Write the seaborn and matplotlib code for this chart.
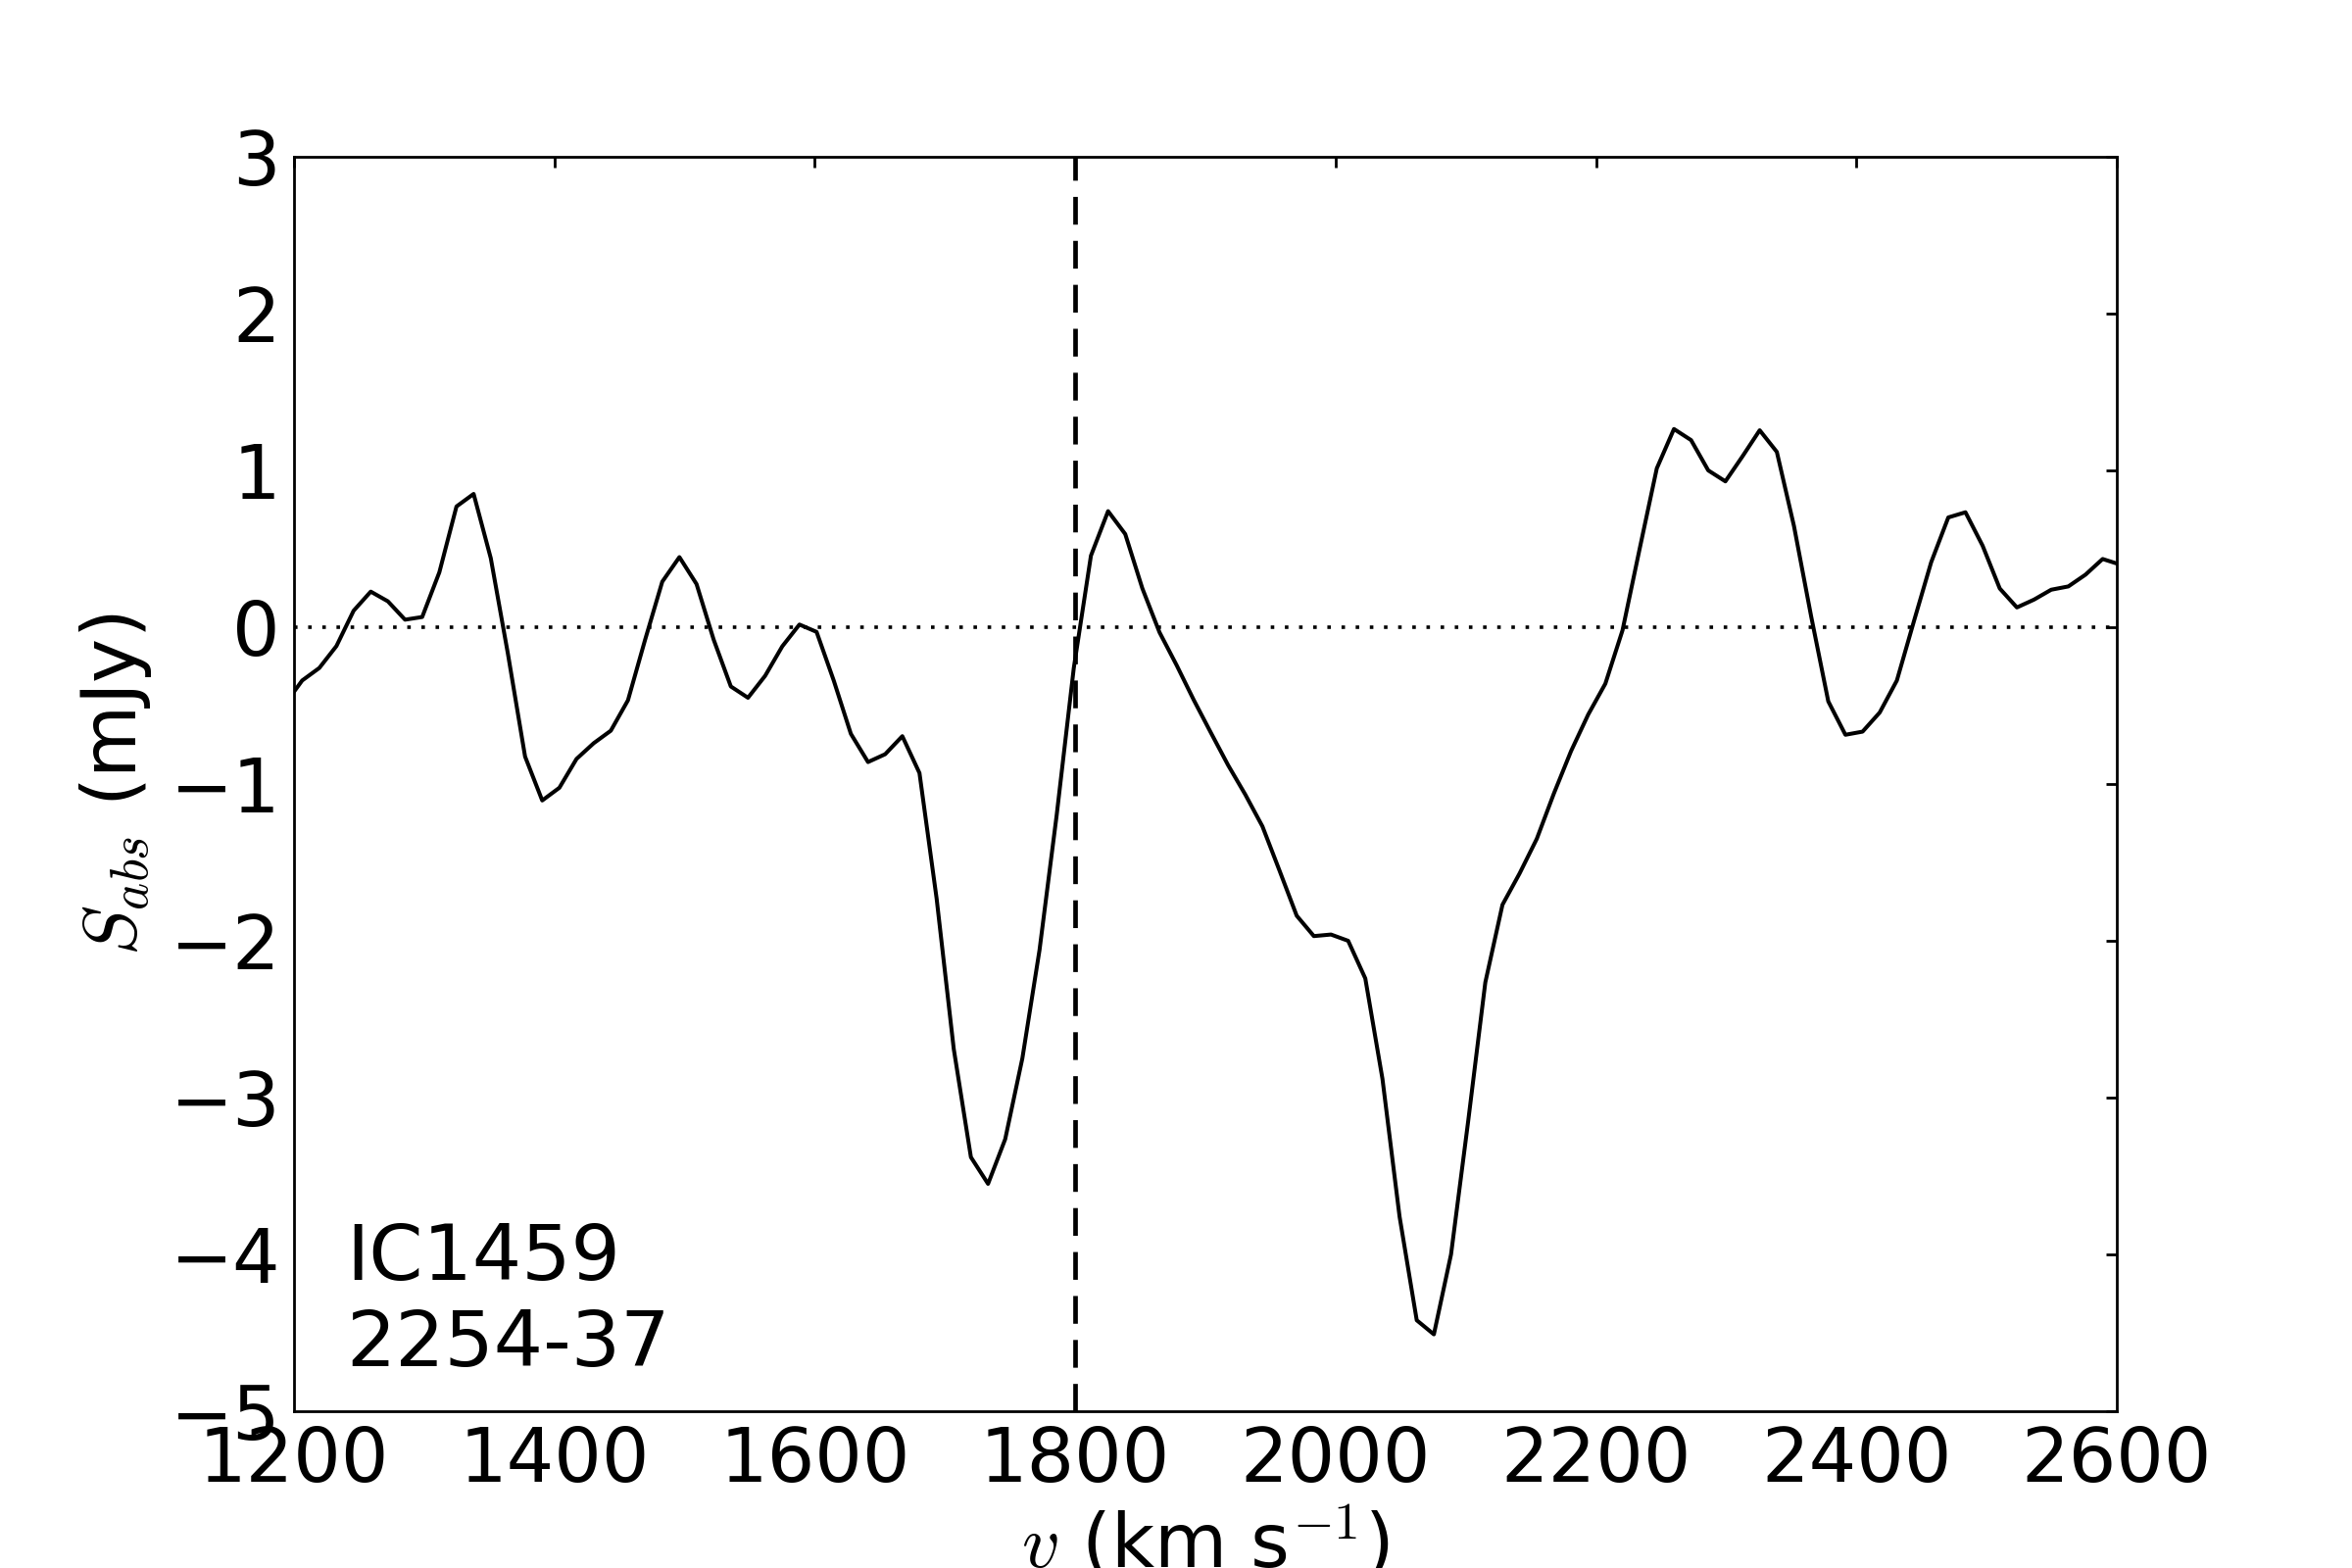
import numpy as np
import pandas as pd
import seaborn as sns
import matplotlib
matplotlib.use("Agg")
import matplotlib.pyplot as plt

# channel grid (km/s)
v_start = 1193.1
channel_width = 13.17

# absorption spectrum, mJy, one value per channel
flux = [
    -0.49, -0.34, -0.26, -0.12, 0.105, 0.227, 0.165, 0.048, 0.065, 0.35,
    0.77, 0.85, 0.44, -0.17, -0.825, -1.105, -1.024, -0.84, -0.74, -0.66,
    -0.466, -0.08, 0.29, 0.447, 0.275, -0.08, -0.378, -0.45, -0.31, -0.122,
    0.017, -0.03, -0.34, -0.68, -0.86, -0.81, -0.695, -0.93, -1.73, -2.69,
    -3.38, -3.55, -3.265, -2.75, -2.06, -1.2, -0.26, 0.456, 0.74, 0.594,
    0.247, -0.033, -0.243, -0.465, -0.674, -0.88, -1.067, -1.27, -1.553, -1.84,
    -1.97, -1.96, -2.0, -2.24, -2.88, -3.76, -4.42, -4.51, -4.0, -3.15,
    -2.265, -1.77, -1.57, -1.35, -1.06, -0.79, -0.557, -0.36, -0.02, 0.5,
    1.013, 1.264, 1.193, 1.0, 0.93, 1.09, 1.256, 1.118, 0.645, 0.07,
    -0.473, -0.686, -0.666, -0.544, -0.34, 0.04, 0.414, 0.70, 0.733, 0.52,
    0.247, 0.126, 0.176, 0.239, 0.26, 0.335, 0.435, 0.40,
]
velocity = v_start + channel_width * np.arange(len(flux))

v_sys = 1800
x_ticks = [1200, 1400, 1600, 1800, 2000, 2200, 2400, 2600]
y_ticks = [-5, -4, -3, -2, -1, 0, 1, 2, 3]
labels = ["IC1459", "2254-37"]

df = pd.DataFrame({"v": velocity, "S": flux})

sns.set_style("white")
plt.rcParams["font.family"] = ["DejaVu Sans"]
plt.rcParams["mathtext.fontset"] = "cm"
plt.rcParams["font.size"] = 27.5
for k in ["text.color", "axes.labelcolor", "xtick.color", "ytick.color", "axes.edgecolor"]:
    plt.rcParams[k] = "black"

fig = plt.figure(figsize=(12, 8), dpi=200)
ax = fig.add_axes([0.125, 0.1, 0.775, 0.8])

sns.lineplot(data=df, x="v", y="S", ax=ax, color="black", linewidth=1.45,
             estimator=None, sort=False)
ax.axhline(0, color="black", linewidth=1.3, linestyle=(0, (1, 3)))
ax.axvline(v_sys, color="black", linewidth=1.7, linestyle=(0, (6, 3.5)))

ax.text(1240, -4.71, "\n".join(labels), fontsize=28.5, ha="left", va="baseline",
        linespacing=1.2)

ax.set_xlim(1200, 2600)
ax.set_ylim(-5, 3)
ax.set_xticks(x_ticks)
ax.set_yticks(y_ticks)
ax.set_yticklabels([f"\N{MINUS SIGN}{-t}" if t < 0 else str(t) for t in y_ticks])
ax.tick_params(direction="in", length=11 / 2.78, width=1, top=True, right=True,
               labelsize=27.5, pad=5, colors="black")
for s in ax.spines.values():
    s.set_linewidth(1.0)
    s.set_color("black")

ax.set_xlabel(r"$v$ (km s$^{-1}$)", fontsize=27.5, labelpad=3)
ax.set_ylabel(r"$S_{abs}$ (mJy)", fontsize=27.5, labelpad=6)

fig.savefig("out.png", dpi=200, facecolor="white")
